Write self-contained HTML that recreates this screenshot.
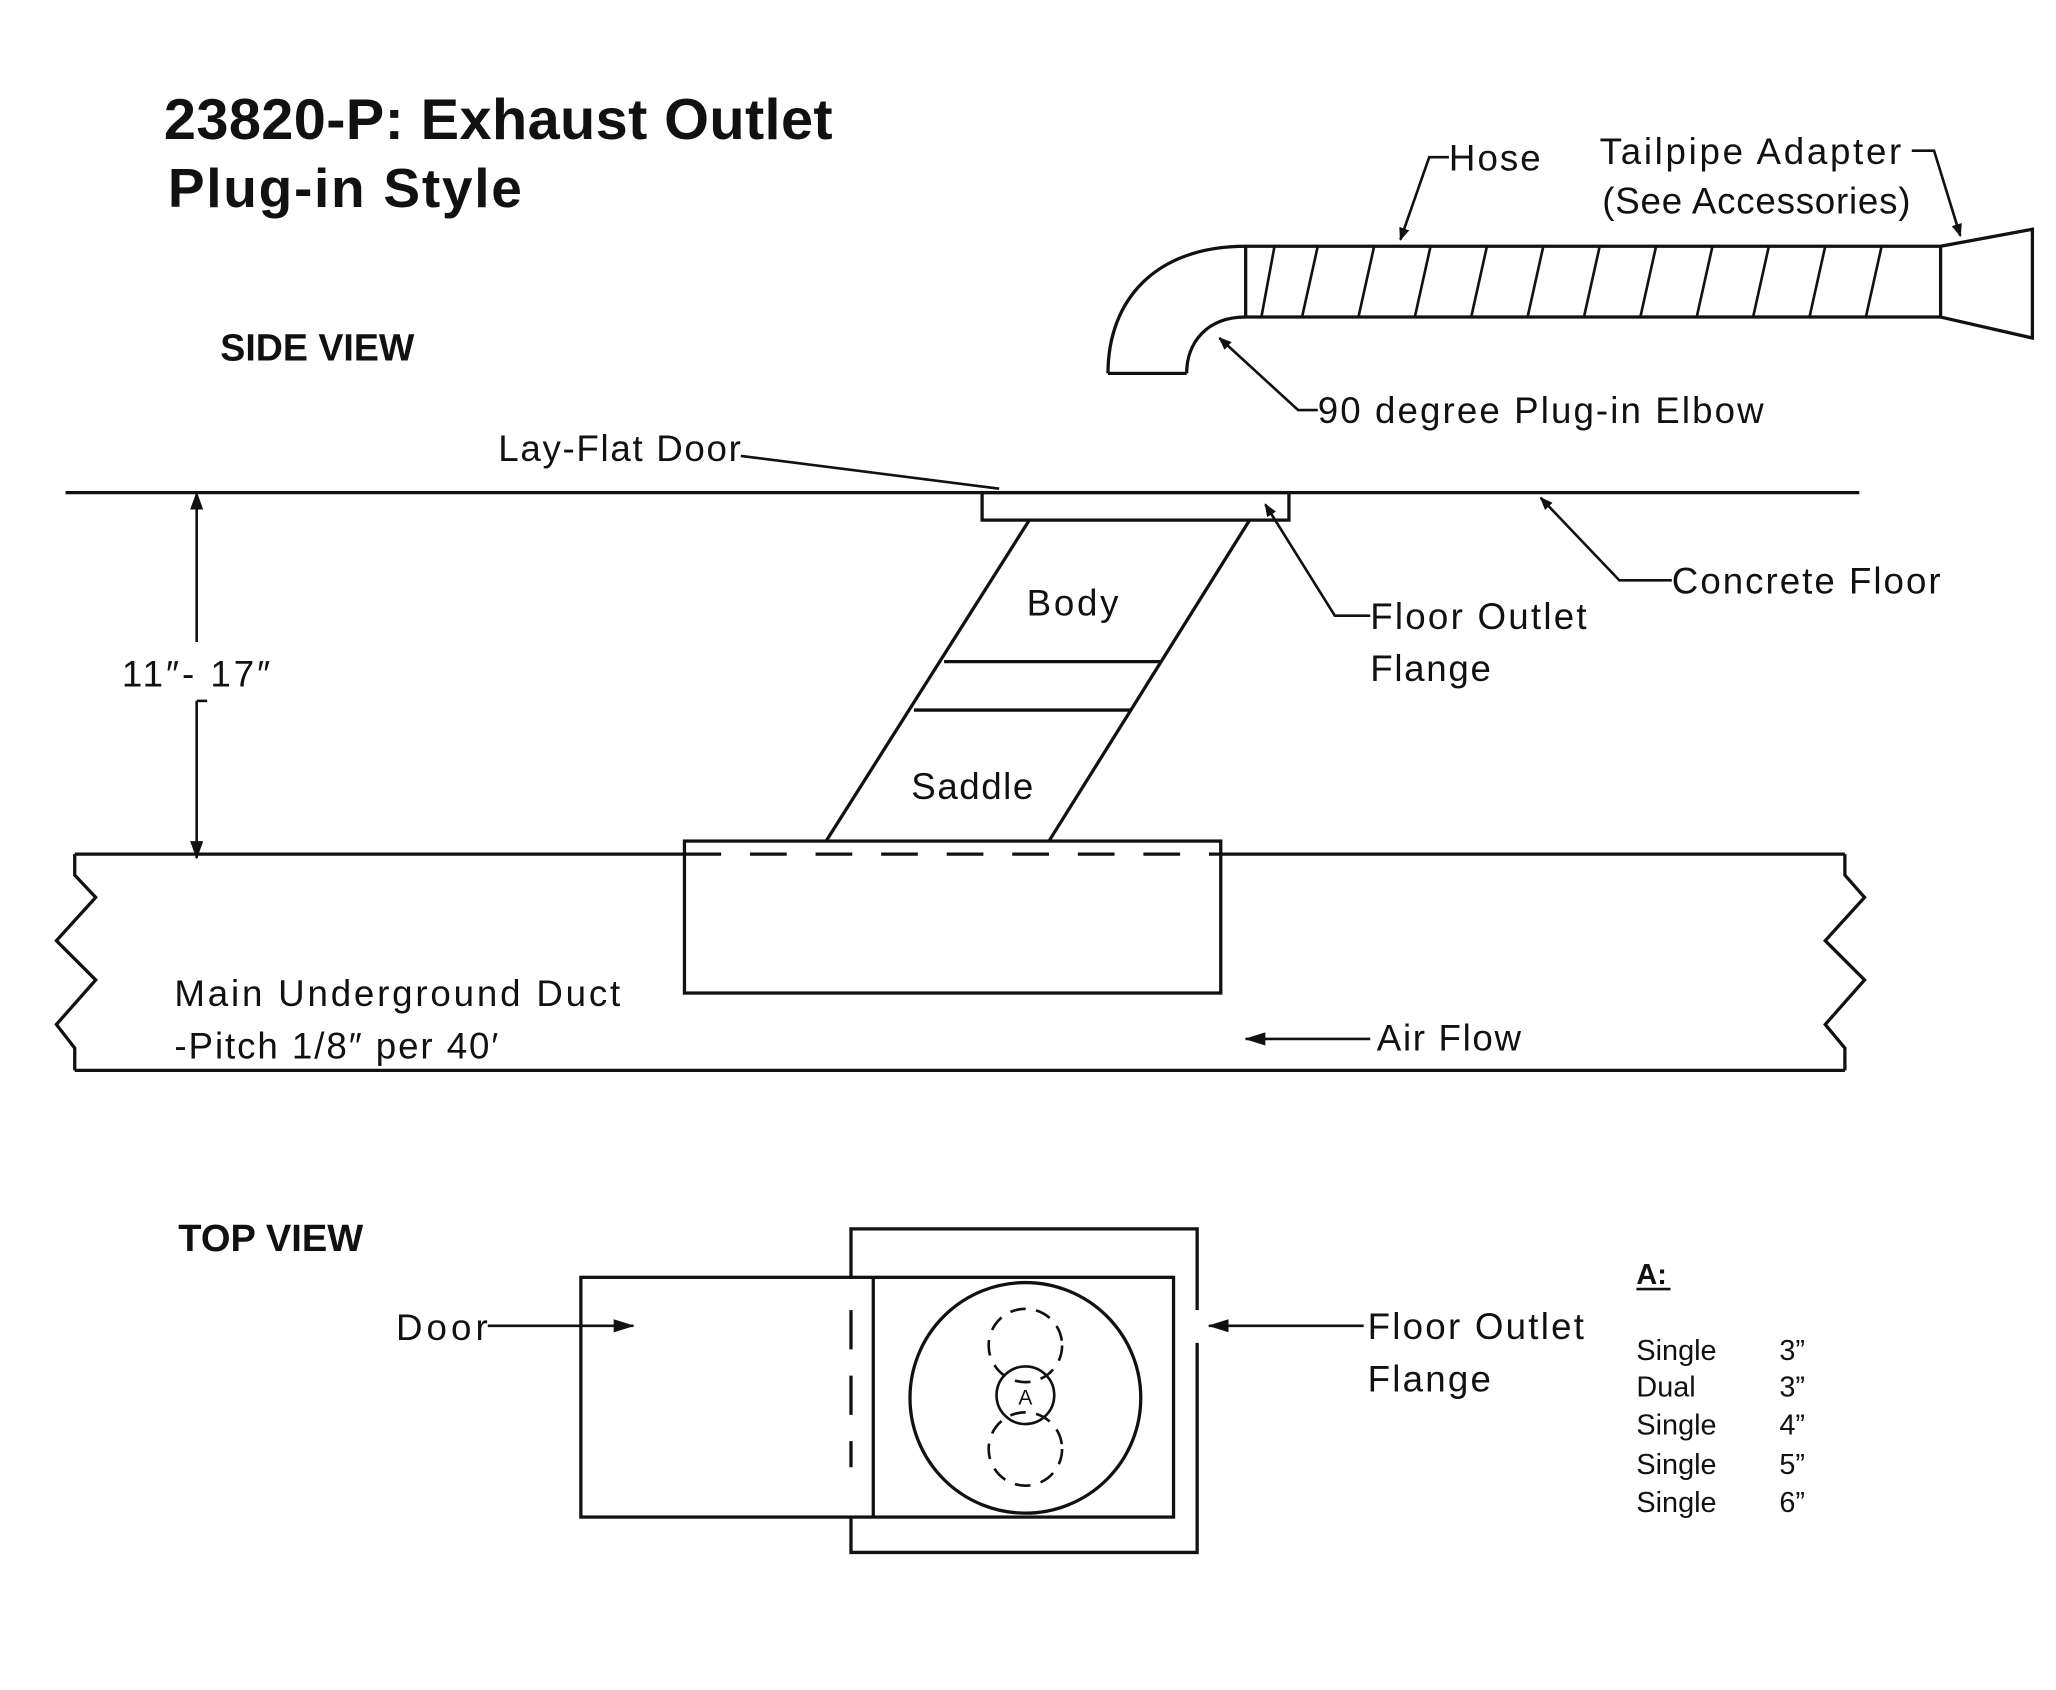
<!DOCTYPE html>
<html><head><meta charset="utf-8"><style>
html,body{margin:0;padding:0;background:#fff;}
svg{display:block;}
text{font-family:"Liberation Sans",sans-serif;fill:#111;}
.l{font-size:28px;}
.b{font-weight:bold;}
.t{font-size:22px;}
</style></head><body>
<svg width="2056" height="1690" viewBox="0 0 1568 1290" preserveAspectRatio="none" xmlns="http://www.w3.org/2000/svg">
<defs><marker id="ar" markerWidth="10" markerHeight="8" refX="9" refY="4" orient="auto" markerUnits="userSpaceOnUse"><path d="M0,0 L10,4 L0,8 Z" fill="#111"/></marker>
<marker id="ar2" markerWidth="16" markerHeight="10" refX="15" refY="5" orient="auto" markerUnits="userSpaceOnUse"><path d="M0,0 L16,5 L0,10 Z" fill="#111"/></marker>
<marker id="ar3" markerWidth="14" markerHeight="10" refX="13" refY="5" orient="auto-start-reverse" markerUnits="userSpaceOnUse"><path d="M0,0 L14,5 L0,10 Z" fill="#111"/></marker></defs>
<g stroke="#111" stroke-width="2.5" fill="none">
<path d="M845,285 C845,230 880,188 950,188 L1480,188"/>
<path d="M905,285 C905,262 920,242 950,242 L1480,242"/>
<line x1="845" y1="285" x2="905" y2="285"/>
<line x1="950" y1="188" x2="950" y2="242"/>
<g stroke-width="2">
<line x1="1005" y1="188" x2="993" y2="242"/><line x1="1048" y1="188" x2="1036" y2="242"/><line x1="1091" y1="188" x2="1079" y2="242"/><line x1="1134" y1="188" x2="1122" y2="242"/><line x1="1177" y1="188" x2="1165" y2="242"/><line x1="1220" y1="188" x2="1208" y2="242"/><line x1="1263" y1="188" x2="1251" y2="242"/><line x1="1306" y1="188" x2="1294" y2="242"/><line x1="1349" y1="188" x2="1337" y2="242"/><line x1="1392" y1="188" x2="1380" y2="242"/><line x1="1435" y1="188" x2="1423" y2="242"/><line x1="972" y1="188" x2="962" y2="242"/>
</g>
<path d="M1480,188 L1480,242 M1480,188 L1550,175 L1550,258 L1480,242"/>
<polyline points="1105,120 1090,120 1068,183" stroke-width="2" marker-end="url(#ar)"/>
<polyline points="1458,115 1475,115 1495,180" stroke-width="2" marker-end="url(#ar)"/>
<polyline points="1005,313 990,313 930,258" stroke-width="2" marker-end="url(#ar)"/>
<line x1="50" y1="376" x2="1418" y2="376"/>
<rect x="749" y="376" width="234" height="21"/>
<line x1="565" y1="348" x2="762" y2="373" stroke-width="2"/>
<line x1="785" y1="397" x2="630" y2="642"/>
<line x1="953" y1="397" x2="800" y2="642"/>
<line x1="720" y1="505" x2="885" y2="505"/>
<line x1="697" y1="542" x2="862" y2="542"/>
<polyline points="1045,470 1018,470 965,385" stroke-width="2" marker-end="url(#ar)"/>
<polyline points="1275,443 1235,443 1175,380" stroke-width="2" marker-end="url(#ar)"/>
<line x1="150" y1="376" x2="150" y2="490" stroke-width="2" marker-start="url(#ar3)"/>
<line x1="150" y1="535" x2="150" y2="655" stroke-width="2" marker-end="url(#ar3)"/>
<line x1="150" y1="535" x2="158" y2="535" stroke-width="2"/>
<line x1="57" y1="652" x2="1407" y2="652"/>
<line x1="57" y1="817" x2="1407" y2="817"/>
<polyline points="57,652 57,668 73,685 43,718 73,748 43,782 57,800 57,817"/>
<polyline points="1407,652 1407,668 1422,685 1392,718 1422,748 1392,782 1407,800 1407,817"/>
<rect x="522" y="642" width="409" height="116" fill="#fff"/>
<line x1="522" y1="652" x2="931" y2="652" stroke-dasharray="28,22"/>
<line x1="1045" y1="793" x2="950" y2="793" stroke-width="2" marker-end="url(#ar2)"/>
<polyline points="649,975 649,938 913,938 913,1000"/>
<polyline points="913,1025 913,1185 649,1185 649,1158"/>
<rect x="443" y="975" width="452" height="183"/>
<line x1="666" y1="975" x2="666" y2="1158"/>
<line x1="649" y1="1000" x2="649" y2="1120" stroke-dasharray="30,20"/>
<circle cx="782" cy="1067" r="88"/>
<circle cx="782" cy="1065" r="22" stroke-width="2"/>
<circle cx="782" cy="1027" r="28" stroke-width="2" stroke-dasharray="12,8"/>
<circle cx="782" cy="1106" r="28" stroke-width="2" stroke-dasharray="12,8"/>
<line x1="372" y1="1012" x2="483" y2="1012" stroke-width="2" marker-end="url(#ar2)"/>
<line x1="1040" y1="1012" x2="922" y2="1012" stroke-width="2" marker-end="url(#ar2)"/>
<line x1="1248" y1="984" x2="1274" y2="984" stroke-width="2"/>
</g>
<text x="125" y="106" class="b" font-size="44" textLength="510">23820-P: Exhaust Outlet</text>
<text x="128" y="158" class="b" font-size="42" textLength="270">Plug-in Style</text>
<text x="168" y="275" class="b" font-size="29" textLength="148" lengthAdjust="spacingAndGlyphs">SIDE VIEW</text>
<text x="1105" y="130" class="l" textLength="70">Hose</text>
<text x="1220" y="125" class="l" textLength="230">Tailpipe Adapter</text>
<text x="1222" y="163" class="l" textLength="235">(See Accessories)</text>
<text x="1005" y="323" class="l" textLength="340">90 degree Plug-in Elbow</text>
<text x="380" y="352" class="l" textLength="185">Lay-Flat Door</text>
<text x="783" y="470" class="l" textLength="70">Body</text>
<text x="695" y="610" class="l" textLength="93">Saddle</text>
<text x="1045" y="480" class="l" textLength="165">Floor Outlet</text>
<text x="1045" y="520" class="l" textLength="92">Flange</text>
<text x="1275" y="453" class="l" textLength="205">Concrete Floor</text>
<text x="93" y="524" class="l" textLength="113">11″- 17″</text>
<text x="133" y="768" class="l" textLength="340">Main Underground Duct</text>
<text x="133" y="808" class="l" textLength="247">-Pitch 1/8″ per 40′</text>
<text x="1050" y="802" class="l" textLength="110">Air Flow</text>
<text x="136" y="955" class="b" font-size="29" textLength="141" lengthAdjust="spacingAndGlyphs">TOP VIEW</text>
<text x="302" y="1023" class="l" textLength="70">Door</text>
<text x="1043" y="1022" class="l" textLength="165">Floor Outlet</text>
<text x="1043" y="1062" class="l" textLength="94">Flange</text>
<text x="782" y="1072" font-size="16" text-anchor="middle">A</text>
<text x="1248" y="980" class="t b">A:</text>
<text x="1248" y="1038" class="t">Single</text><text x="1357" y="1038" class="t">3”</text>
<text x="1248" y="1066" class="t">Dual</text><text x="1357" y="1066" class="t">3”</text>
<text x="1248" y="1095" class="t">Single</text><text x="1357" y="1095" class="t">4”</text>
<text x="1248" y="1125" class="t">Single</text><text x="1357" y="1125" class="t">5”</text>
<text x="1248" y="1154" class="t">Single</text><text x="1357" y="1154" class="t">6”</text>
</svg>
</body></html>
